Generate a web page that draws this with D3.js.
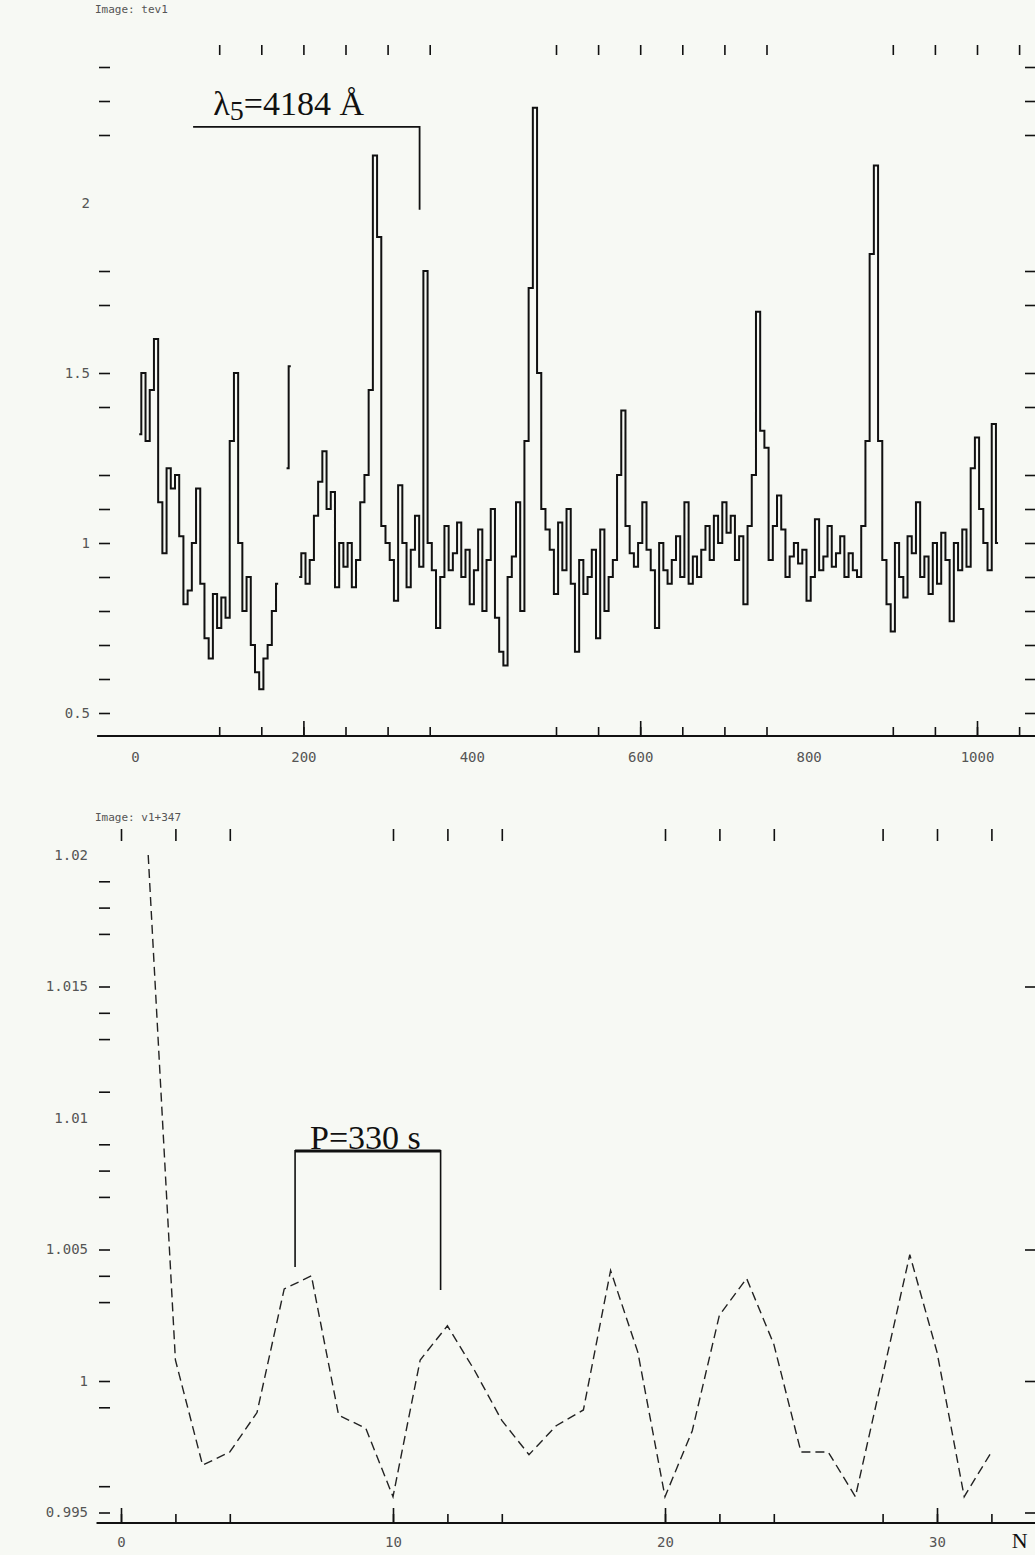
<!DOCTYPE html>
<html>
<head>
<meta charset="utf-8">
<script src="https://cdn.jsdelivr.net/npm/d3@7"></script>
<style>
  body { margin: 0; background: #f7f9f4; }
  svg { display: block; }
  .tk line { stroke: #111; stroke-width: 1.6; }
  .tk path, .lab path, .lab line { display: none; }
  .lab text { font-family: "DejaVu Sans Mono", monospace; font-size: 14px; fill: #555; }
  .img { font-family: "DejaVu Sans Mono", monospace; font-size: 11px; fill: #555; }
  .serif { font-family: "Liberation Serif", "Times New Roman", serif; fill: #111; }
</style>
</head>
<body>
<div id="chart"></div>
<script>
// light curve: one value every 5 frames, starting at frame 5 (null = gap)
var curveStart = 5, curveStep = 5;
var curveValues = [
  1.32, 1.50, 1.30, 1.45, 1.60, 1.12, 0.97, 1.22, 1.16, 1.20,
  1.02, 0.82, 0.86, 1.00, 1.16, 0.88, 0.72, 0.66, 0.85, 0.75,
  0.84, 0.78, 1.30, 1.50, 1.00, 0.80, 0.90, 0.70, 0.62, 0.57,
  0.66, 0.70, 0.80, 0.88, null, 1.22, 1.52, null, 0.90, 0.97,
  0.88, 0.95, 1.08, 1.18, 1.27, 1.10, 1.15, 0.87, 1.00, 0.93,
  1.00, 0.87, 0.95, 1.12, 1.20, 1.45, 2.14, 1.90, 1.05, 1.00,
  0.95, 0.83, 1.17, 1.00, 0.87, 0.98, 1.08, 0.93, 1.80, 1.00,
  0.92, 0.75, 0.90, 1.05, 0.92, 0.97, 1.06, 0.90, 0.98, 0.82,
  0.92, 1.04, 0.80, 0.95, 1.10, 0.78, 0.68, 0.64, 0.90, 0.96,
  1.12, 0.80, 1.30, 1.75, 2.28, 1.50, 1.10, 1.04, 0.98, 0.85,
  1.06, 0.92, 1.10, 0.88, 0.68, 0.95, 0.85, 0.90, 0.98, 0.72,
  1.04, 0.80, 0.90, 0.95, 1.20, 1.39, 1.05, 0.97, 0.93, 1.00,
  1.12, 0.98, 0.92, 0.75, 1.00, 0.92, 0.88, 0.95, 1.02, 0.90,
  1.12, 0.88, 0.96, 0.90, 0.98, 1.05, 0.95, 1.08, 1.00, 1.12,
  1.03, 1.08, 0.95, 1.02, 0.82, 1.05, 1.20, 1.68, 1.33, 1.28,
  0.95, 1.05, 1.14, 1.04, 0.90, 0.96, 1.00, 0.94, 0.98, 0.83,
  0.90, 1.07, 0.92, 0.96, 1.05, 0.93, 0.97, 1.02, 0.90, 0.97,
  0.92, 0.90, 1.05, 1.30, 1.85, 2.11, 1.30, 0.95, 0.82, 0.74,
  1.00, 0.90, 0.84, 1.02, 0.97, 1.12, 0.90, 0.96, 0.85, 1.00,
  0.88, 1.03, 0.95, 0.77, 1.00, 0.92, 1.04, 0.93, 1.22, 1.31,
  1.10, 1.00, 0.92, 1.35, 1.00
];
var topYTicks = [2.4, 2.3, 2.2, 1.8, 1.7, 1.5, 1.4, 1.2, 1.1, 1.0, 0.9, 0.8, 0.7, 0.6, 0.5];
var topYLabels = [0.5, 1, 1.5, 2];
var topXTicks = [100, 150, 200, 250, 300, 350, 500, 550, 600, 650, 700, 750, 900, 950, 1000, 1050];
var topXMajor = [200, 600, 1000];
var topXLabels = [0, 200, 400, 600, 800, 1000];

// folded profile
var foldN = [1, 2, 3, 4, 5, 6, 7, 8, 9, 10, 11, 12, 13, 14, 15, 16,
             17, 18, 19, 20, 21, 22, 23, 24, 25, 26, 27, 28, 29, 30, 31, 32];
var foldValues = [1.0200, 1.0008, 0.9968, 0.9973, 0.9988, 1.0035, 1.0040, 0.9987,
                  0.9982, 0.9956, 1.0008, 1.0021, 1.0004, 0.9985, 0.9972, 0.9983,
                  0.9989, 1.0042, 1.0011, 0.9956, 0.9981, 1.0025, 1.0039, 1.0014,
                  0.9973, 0.9973, 0.9956, 1.0002, 1.0048, 1.0011, 0.9956, 0.9973];
var botYTicks = [1.019, 1.018, 1.017, 1.015, 1.014, 1.013, 1.011, 1.009, 1.008, 1.007,
                 1.005, 1.004, 1.003, 1.0, 0.999, 0.996, 0.995];
var botYRight = [1.015, 1.005, 1.0, 0.995];
var botYLabels = [1.02, 1.015, 1.01, 1.005, 1, 0.995];
var botXTicks = [0, 2, 4, 10, 12, 14, 20, 22, 24, 28, 30, 32];
var botXMajor = [0, 10, 20, 30];
var botXLabels = [0, 10, 20, 30];

var W = 1035, H = 1555;
var svg = d3.select('#chart').append('svg').attr('width', W).attr('height', H);
svg.append('rect').attr('width', W).attr('height', H).attr('fill', '#f7f9f4');

function ticks(axis, tr) {
  return svg.append('g').attr('class', 'tk').attr('transform', tr).call(axis);
}
function labels(axis, tr) {
  return svg.append('g').attr('class', 'lab').attr('transform', tr).call(axis);
}

// ---------- top panel ----------
var xTop = d3.scaleLinear().domain([0, 1000]).range([135, 977]);
var yTop = d3.scaleLinear().domain([0.5, 2.5]).range([713, 33]);

svg.append('text').attr('class', 'img').attr('x', 95).attr('y', 13).text('Image: tev1');

ticks(d3.axisLeft(yTop).tickValues(topYTicks).tickSize(11).tickFormat(''), 'translate(110,0)');
ticks(d3.axisRight(yTop).tickValues(topYTicks).tickSize(11).tickFormat(''), 'translate(1025,0)');
ticks(d3.axisTop(xTop).tickValues(topXTicks).tickSize(10).tickFormat(''), 'translate(0,55)');
ticks(d3.axisBottom(xTop).tickValues(topXTicks).tickSize(-9).tickFormat(''), 'translate(0,736)');
ticks(d3.axisBottom(xTop).tickValues(topXMajor).tickSize(-15).tickFormat(''), 'translate(0,736)');
svg.append('line').attr('x1', xTop(-45)).attr('x2', W).attr('y1', 736).attr('y2', 736)
  .attr('stroke', '#111').attr('stroke-width', 2.2);

labels(d3.axisLeft(yTop).tickValues(topYLabels).tickSize(0).tickPadding(0).tickFormat(String), 'translate(90,0)');
labels(d3.axisBottom(xTop).tickValues(topXLabels).tickSize(0).tickPadding(0).tickFormat(String), 'translate(0,752)');

var curvePts = curveValues.map(function(v, k) { return { n: curveStart + k * curveStep, v: v }; });
var topLine = d3.line()
  .defined(function(d) { return d.v !== null; })
  .x(function(d) { return xTop(d.n); })
  .y(function(d) { return yTop(d.v); })
  .curve(d3.curveStep);
svg.append('path').datum(curvePts).attr('d', topLine)
  .attr('fill', 'none').attr('stroke', '#111').attr('stroke-width', 2);

// lambda annotation
svg.append('path')
  .attr('d', 'M' + xTop(69) + ',' + yTop(2.224) + 'H' + xTop(338) + 'V' + yTop(1.98))
  .attr('fill', 'none').attr('stroke', '#111').attr('stroke-width', 1.8);
var lt = svg.append('text').attr('class', 'serif').attr('x', xTop(93)).attr('y', yTop(2.26))
  .style('font-size', '34px');
lt.append('tspan').text('λ');
lt.append('tspan').attr('dy', 5).style('font-size', '28px').text('5');
lt.append('tspan').attr('dy', -5).text('=4184  Å');

// ---------- bottom panel ----------
var xBot = d3.scaleLinear().domain([0, 30]).range([121, 937]);
var yBot = d3.scaleLinear().domain([0.995, 1.02]).range([1512.5, 855]);

svg.append('text').attr('class', 'img').attr('x', 95).attr('y', 821).text('Image: v1+347');

ticks(d3.axisLeft(yBot).tickValues(botYTicks).tickSize(11).tickFormat(''), 'translate(110,0)');
ticks(d3.axisRight(yBot).tickValues(botYRight).tickSize(11).tickFormat(''), 'translate(1025,0)');
ticks(d3.axisTop(xBot).tickValues(botXTicks).tickSize(12).tickFormat(''), 'translate(0,841)');
ticks(d3.axisBottom(xBot).tickValues(botXTicks).tickSize(-9).tickFormat(''), 'translate(0,1523)');
ticks(d3.axisBottom(xBot).tickValues(botXMajor).tickSize(-15).tickFormat(''), 'translate(0,1523)');
svg.append('line').attr('x1', xBot(-0.9)).attr('x2', W).attr('y1', 1523).attr('y2', 1523)
  .attr('stroke', '#111').attr('stroke-width', 2.2);

labels(d3.axisLeft(yBot).tickValues(botYLabels).tickSize(0).tickPadding(0).tickFormat(String), 'translate(88,0)');
labels(d3.axisBottom(xBot).tickValues(botXLabels).tickSize(0).tickPadding(0).tickFormat(String), 'translate(0,1537)');
svg.append('text').attr('class', 'serif').attr('x', xBot(32.75)).attr('y', 1548)
  .style('font-size', '22px').text('N');

var foldPts = foldN.map(function(n, k) { return { n: n, v: foldValues[k] }; });
var botLine = d3.line()
  .x(function(d) { return xBot(d.n); })
  .y(function(d) { return yBot(d.v); });
svg.append('path').datum(foldPts).attr('d', botLine)
  .attr('fill', 'none').attr('stroke', '#222').attr('stroke-width', 1.4)
  .attr('stroke-dasharray', '9,5');

// period annotation
svg.append('path')
  .attr('d', 'M' + xBot(6.4) + ',' + yBot(1.00433) + 'V' + yBot(1.00875) +
             'H' + xBot(11.75) + 'V' + yBot(1.00346))
  .attr('fill', 'none').attr('stroke', '#111').attr('stroke-width', 1.6);
svg.append('line').attr('x1', xBot(6.4)).attr('x2', xBot(11.75))
  .attr('y1', yBot(1.00875)).attr('y2', yBot(1.00875))
  .attr('stroke', '#111').attr('stroke-width', 3);
svg.append('text').attr('class', 'serif').attr('x', xBot(6.95)).attr('y', yBot(1.00883))
  .style('font-size', '34px').text('P=330 s');
</script>
</body>
</html>
